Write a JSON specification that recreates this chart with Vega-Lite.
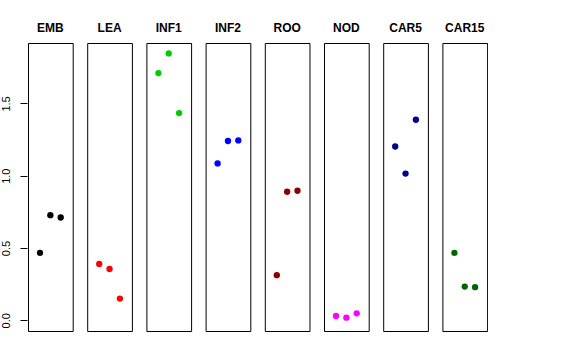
{
  "$schema": "https://vega.github.io/schema/vega-lite/v6.json",
  "autosize": {"type": "pad"},
  "padding": {"left": 0, "top": 22, "right": 0, "bottom": 0},
  "background": "white",
  "data": {"values": [
    {"tissue": "EMB", "rep": 1, "value": 0.466},
    {"tissue": "EMB", "rep": 2, "value": 0.727},
    {"tissue": "EMB", "rep": 3, "value": 0.711},
    {"tissue": "LEA", "rep": 1, "value": 0.390},
    {"tissue": "LEA", "rep": 2, "value": 0.355},
    {"tissue": "LEA", "rep": 3, "value": 0.150},
    {"tissue": "INF1", "rep": 1, "value": 1.710},
    {"tissue": "INF1", "rep": 2, "value": 1.846},
    {"tissue": "INF1", "rep": 3, "value": 1.433},
    {"tissue": "INF2", "rep": 1, "value": 1.085},
    {"tissue": "INF2", "rep": 2, "value": 1.240},
    {"tissue": "INF2", "rep": 3, "value": 1.244},
    {"tissue": "ROO", "rep": 1, "value": 0.312},
    {"tissue": "ROO", "rep": 2, "value": 0.889},
    {"tissue": "ROO", "rep": 3, "value": 0.896},
    {"tissue": "NOD", "rep": 1, "value": 0.030},
    {"tissue": "NOD", "rep": 2, "value": 0.018},
    {"tissue": "NOD", "rep": 3, "value": 0.048},
    {"tissue": "CAR5", "rep": 1, "value": 1.202},
    {"tissue": "CAR5", "rep": 2, "value": 1.015},
    {"tissue": "CAR5", "rep": 3, "value": 1.387},
    {"tissue": "CAR15", "rep": 1, "value": 0.466},
    {"tissue": "CAR15", "rep": 2, "value": 0.233},
    {"tissue": "CAR15", "rep": 3, "value": 0.229}
  ]},
  "facet": {
    "column": {
      "field": "tissue",
      "type": "nominal",
      "sort": ["EMB", "LEA", "INF1", "INF2", "ROO", "NOD", "CAR5", "CAR15"],
      "title": null,
      "header": {
        "labelOrient": "top",
        "labelFont": "Liberation Sans",
        "labelFontSize": 12,
        "labelFontWeight": "bold",
        "labelColor": "black",
        "labelPadding": -2,
        "labelBaseline": "alphabetic"
      }
    }
  },
  "spacing": 12.2,
  "spec": {
    "width": 44.7,
    "height": 288,
    "mark": {"type": "point", "filled": true, "opacity": 1, "size": 40},
    "encoding": {
      "x": {
        "field": "rep",
        "type": "quantitative",
        "scale": {"domain": [-0.16, 4.16], "nice": false, "zero": false},
        "axis": null
      },
      "y": {
        "field": "value",
        "type": "quantitative",
        "scale": {"domain": [-0.074, 1.918], "nice": false, "zero": false},
        "axis": {
          "title": null,
          "values": [0, 0.5, 1, 1.5],
          "format": ".1f",
          "grid": false,
          "domain": false,
          "tickSize": 7,
          "tickColor": "black",
          "labelAngle": -90,
          "labelAlign": "center",
          "labelBaseline": "bottom",
          "labelPadding": 9,
          "labelFont": "Liberation Sans",
          "labelFontSize": 11,
          "labelColor": "black"
        }
      },
      "color": {
        "field": "tissue",
        "type": "nominal",
        "scale": {
          "domain": ["EMB", "LEA", "INF1", "INF2", "ROO", "NOD", "CAR5", "CAR15"],
          "range": ["#000000", "#FF0000", "#00CD00", "#0000FF", "#8B0000", "#FF00FF", "#00008B", "#006400"]
        },
        "legend": null
      }
    }
  },
  "config": {
    "view": {"stroke": "black", "strokeWidth": 1}
  }
}
